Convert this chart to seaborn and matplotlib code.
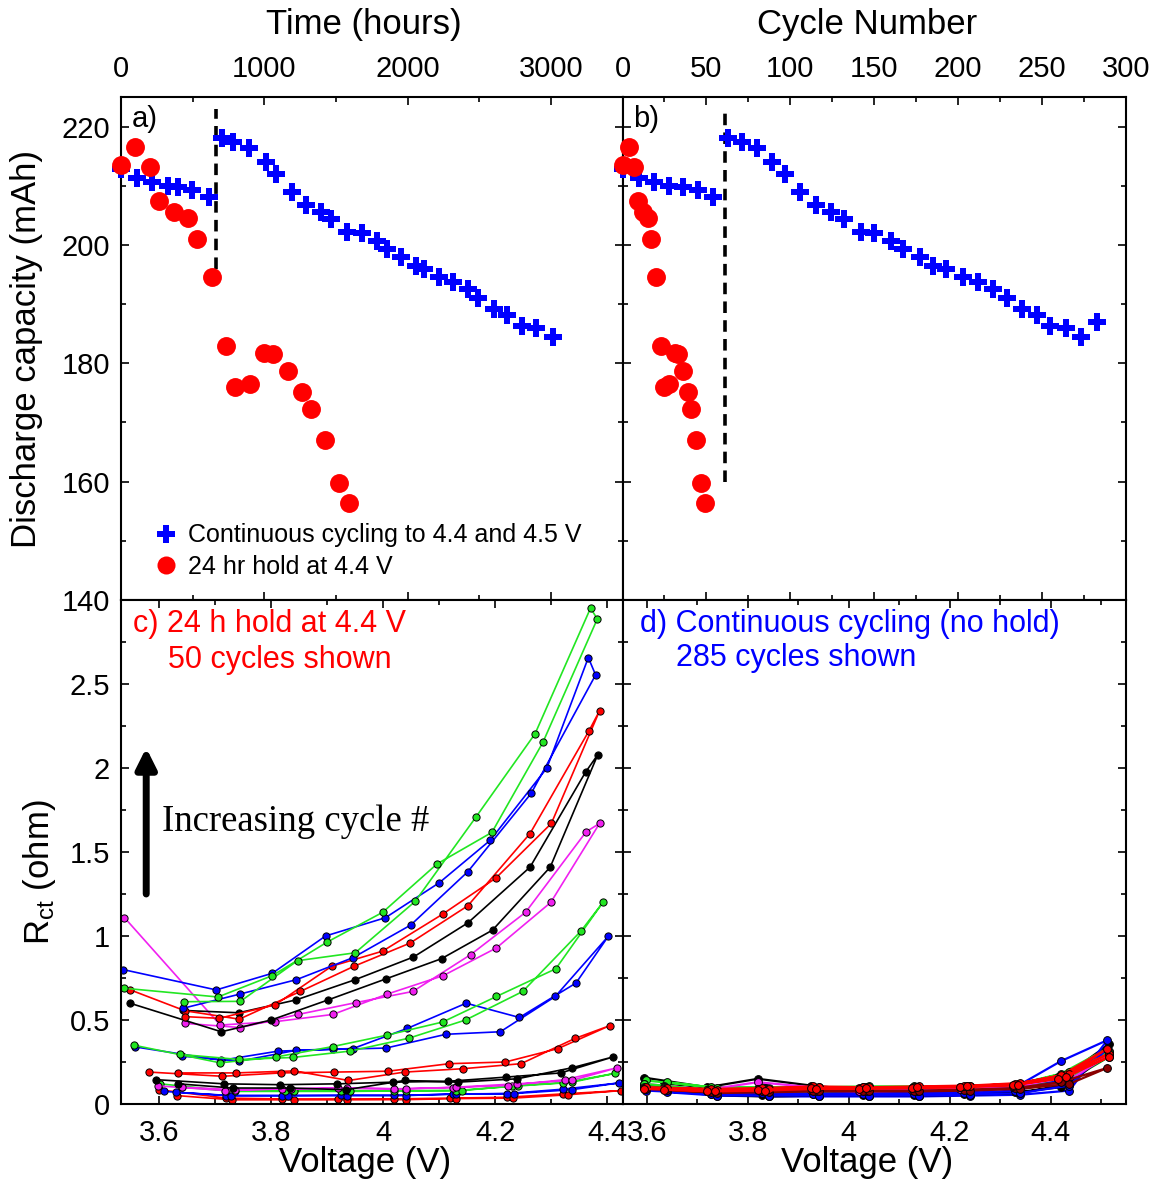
import matplotlib
matplotlib.use("Agg")
import matplotlib.pyplot as plt
from matplotlib.ticker import MultipleLocator, FixedLocator, FixedFormatter
from matplotlib.lines import Line2D
import seaborn as sns

# ---------------- capacity data (panels a, b) ----------------
time_cont = [0, 113, 219, 325, 396, 495, 613, 702, 785, 891, 1009, 1079, 1190, 1292,
             1398, 1468, 1579, 1680, 1786, 1857, 1951, 2057, 2116, 2222, 2317, 2423,
             2494, 2600, 2694, 2802, 2896, 3014]
cycle_cont = [0, 10, 19, 28, 36, 45, 54, 63, 71, 80, 89, 97, 106, 115, 124, 132, 142,
              150, 160, 167, 177, 185, 193, 203, 212, 221, 229, 238, 247, 255, 264, 273, 283]
cap_cont = [212.9, 211.3, 210.6, 210.0, 209.8, 209.3, 208.1, 218.0, 217.4, 216.3, 214.0,
            212.0, 208.9, 206.7, 205.6, 204.4, 202.2, 202.0, 200.7, 199.3, 198.0, 196.5,
            196.0, 194.6, 193.7, 192.6, 191.0, 189.2, 188.2, 186.3, 186.0, 184.5, 187.0]

time_hold = [0, 101, 203, 266, 368, 467, 533, 632, 731, 797, 898, 998, 1064, 1163, 1262,
             1328, 1427, 1524, 1592]
cycle_hold = [0, 4, 7, 9, 12, 15, 17, 20, 23, 25, 28, 31, 33, 36, 39, 41, 44, 47, 49]
cap_hold = [213.5, 216.5, 213.1, 207.4, 205.6, 204.5, 201.0, 194.6, 182.9, 176.0, 176.5,
            181.7, 181.6, 178.7, 175.1, 172.3, 167.0, 159.7, 156.4]

# voltage change between the two cycling protocols
switch_time = 662
switch_cycle = 61

# ---------------- Rct loops, 24 h hold (panel c) ----------------
c_red0_v = [3.600, 3.720, 3.820, 3.920, 4.020, 4.120, 4.220, 4.320, 4.425, 4.330, 4.232, 4.130, 4.040, 3.935, 3.840, 3.730, 3.632]
c_red0_r = [0.085, 0.035, 0.030, 0.030, 0.030, 0.035, 0.040, 0.060, 0.080, 0.055, 0.035, 0.032, 0.026, 0.025, 0.025, 0.025, 0.050]
c_blue0_v = [3.609, 3.720, 3.820, 3.925, 4.020, 4.125, 4.220, 4.320, 4.420, 4.336, 4.233, 4.130, 4.040, 3.935, 3.830, 3.728, 3.630]
c_blue0_r = [0.075, 0.050, 0.050, 0.052, 0.052, 0.058, 0.062, 0.088, 0.125, 0.085, 0.062, 0.060, 0.050, 0.050, 0.050, 0.050, 0.070]
c_green0_v = [3.602, 3.720, 3.824, 3.925, 4.020, 4.130, 4.230, 4.320, 4.413, 4.337, 4.240, 4.140, 4.040, 3.940, 3.840, 3.736, 3.640]
c_green0_r = [0.120, 0.080, 0.080, 0.080, 0.080, 0.080, 0.105, 0.125, 0.182, 0.130, 0.110, 0.080, 0.078, 0.075, 0.075, 0.075, 0.100]
c_mag0_v = [3.598, 3.718, 3.820, 3.920, 4.020, 4.124, 4.222, 4.324, 4.417, 4.336, 4.238, 4.130, 4.040, 3.935, 3.835, 3.735, 3.640]
c_mag0_r = [0.108, 0.080, 0.090, 0.095, 0.090, 0.098, 0.110, 0.145, 0.215, 0.140, 0.120, 0.100, 0.090, 0.095, 0.090, 0.085, 0.100]
c_black0_v = [3.594, 3.716, 3.815, 3.918, 4.017, 4.115, 4.219, 4.317, 4.410, 4.336, 4.239, 4.133, 4.038, 3.934, 3.833, 3.732, 3.634]
c_black0_r = [0.145, 0.120, 0.115, 0.120, 0.130, 0.135, 0.160, 0.185, 0.280, 0.215, 0.150, 0.130, 0.140, 0.085, 0.095, 0.095, 0.120]
c_red1_v = [3.582, 3.713, 3.818, 3.913, 4.008, 4.118, 4.218, 4.312, 4.404, 4.342, 4.246, 4.142, 4.038, 3.938, 3.841, 3.737, 3.634]
c_red1_r = [0.190, 0.165, 0.185, 0.190, 0.195, 0.240, 0.250, 0.330, 0.466, 0.390, 0.240, 0.210, 0.190, 0.140, 0.197, 0.185, 0.185]
c_blue1_v = [3.557, 3.711, 3.813, 3.910, 4.005, 4.112, 4.209, 4.307, 4.402, 4.344, 4.243, 4.148, 4.043, 3.946, 3.845, 3.743, 3.640]
c_blue1_r = [0.340, 0.260, 0.315, 0.325, 0.333, 0.415, 0.430, 0.640, 1.000, 0.720, 0.515, 0.600, 0.450, 0.330, 0.320, 0.255, 0.285]
c_green1_v = [3.555, 3.709, 3.809, 3.910, 4.007, 4.106, 4.202, 4.308, 4.392, 4.353, 4.249, 4.147, 4.046, 3.941, 3.839, 3.743, 3.638]
c_green1_r = [0.350, 0.245, 0.280, 0.342, 0.410, 0.488, 0.640, 0.805, 1.200, 1.030, 0.670, 0.500, 0.392, 0.315, 0.277, 0.265, 0.295]
c_mag1_v = [3.538, 3.709, 3.807, 3.910, 4.007, 4.107, 4.202, 4.299, 4.386, 4.362, 4.254, 4.156, 4.053, 3.952, 3.848, 3.745, 3.646]
c_mag1_r = [1.110, 0.470, 0.490, 0.533, 0.654, 0.764, 0.929, 1.200, 1.670, 1.620, 1.141, 0.889, 0.670, 0.604, 0.533, 0.455, 0.480]
c_black1_v = [3.548, 3.711, 3.800, 3.902, 4.005, 4.104, 4.195, 4.298, 4.383, 4.361, 4.262, 4.151, 4.054, 3.950, 3.845, 3.742, 3.643]
c_black1_r = [0.600, 0.430, 0.500, 0.620, 0.745, 0.865, 1.035, 1.410, 2.080, 1.975, 1.410, 1.078, 0.875, 0.740, 0.620, 0.543, 0.557]
c_red2_v = [3.548, 3.646, 3.743, 3.852, 3.948, 4.048, 4.151, 4.262, 4.367, 4.386, 4.300, 4.201, 4.106, 3.999, 3.908, 3.807, 3.707, 3.647]
c_red2_r = [0.680, 0.555, 0.505, 0.670, 0.820, 0.958, 1.180, 1.610, 2.220, 2.340, 1.670, 1.345, 1.130, 0.910, 0.820, 0.590, 0.510, 0.520]
c_blue2_v = [3.536, 3.702, 3.802, 3.897, 4.004, 4.100, 4.191, 4.292, 4.366, 4.379, 4.264, 4.151, 4.049, 3.946, 3.845, 3.745, 3.643]
c_blue2_r = [0.800, 0.679, 0.778, 1.000, 1.109, 1.317, 1.570, 2.000, 2.657, 2.554, 1.849, 1.383, 1.065, 0.871, 0.740, 0.655, 0.570]
c_green2_v = [3.538, 3.705, 3.802, 3.900, 3.999, 4.096, 4.194, 4.285, 4.382, 4.370, 4.271, 4.165, 4.057, 3.950, 3.847, 3.745, 3.645]
c_green2_r = [0.689, 0.637, 0.764, 0.964, 1.141, 1.429, 1.617, 2.153, 2.887, 2.952, 2.204, 1.706, 1.206, 0.900, 0.853, 0.611, 0.609]

# ---------------- Rct loops, continuous cycling (panel d) ----------------
d_volts_a = [3.595, 3.720, 3.820, 3.925, 4.020, 4.125, 4.220, 4.325, 4.415, 4.515,
             4.430, 4.335, 4.235, 4.135, 4.035, 3.935, 3.835, 3.735, 3.635]
d_volts_b = [3.598, 3.727, 3.828, 3.930, 4.028, 4.130, 4.228, 4.330, 4.420, 4.512,
             4.437, 4.340, 4.240, 4.140, 4.040, 3.942, 3.842, 3.740, 3.640]
d_black1 = [0.157, 0.100, 0.150, 0.110, 0.085, 0.080, 0.085, 0.100, 0.140, 0.355, 0.150, 0.095, 0.080, 0.075, 0.080, 0.090, 0.100, 0.090, 0.120]
d_green1 = [0.140, 0.100, 0.100, 0.100, 0.100, 0.105, 0.100, 0.115, 0.180, 0.330, 0.190, 0.120, 0.105, 0.100, 0.105, 0.100, 0.095, 0.095, 0.130]
d_mag1 = [0.120, 0.085, 0.130, 0.100, 0.090, 0.095, 0.095, 0.110, 0.150, 0.315, 0.140, 0.105, 0.090, 0.090, 0.085, 0.085, 0.090, 0.080, 0.110]
d_blue1 = [0.100, 0.070, 0.075, 0.070, 0.065, 0.065, 0.070, 0.100, 0.255, 0.380, 0.080, 0.055, 0.050, 0.045, 0.045, 0.045, 0.045, 0.055, 0.085]
d_dgreen = [0.110, 0.080, 0.080, 0.085, 0.080, 0.080, 0.085, 0.100, 0.140, 0.280, 0.130, 0.095, 0.085, 0.080, 0.080, 0.080, 0.075, 0.075, 0.100]
d_black2 = [0.090, 0.060, 0.055, 0.060, 0.055, 0.055, 0.060, 0.070, 0.100, 0.300, 0.120, 0.065, 0.055, 0.050, 0.050, 0.050, 0.045, 0.050, 0.080]
d_green2 = [0.120, 0.085, 0.090, 0.080, 0.085, 0.090, 0.095, 0.105, 0.150, 0.310, 0.130, 0.100, 0.090, 0.085, 0.080, 0.075, 0.075, 0.070, 0.100]
d_blue2 = [0.080, 0.060, 0.065, 0.060, 0.060, 0.060, 0.065, 0.080, 0.140, 0.330, 0.110, 0.065, 0.055, 0.050, 0.050, 0.050, 0.050, 0.050, 0.070]
d_mag2 = [0.100, 0.075, 0.090, 0.085, 0.080, 0.085, 0.090, 0.100, 0.150, 0.290, 0.130, 0.095, 0.085, 0.080, 0.075, 0.080, 0.080, 0.070, 0.095]
d_dred = [0.090, 0.070, 0.075, 0.080, 0.080, 0.080, 0.085, 0.095, 0.130, 0.215, 0.120, 0.090, 0.080, 0.075, 0.075, 0.075, 0.070, 0.065, 0.085]
d_red1 = [0.095, 0.085, 0.090, 0.100, 0.095, 0.095, 0.100, 0.110, 0.160, 0.300, 0.170, 0.120, 0.105, 0.100, 0.100, 0.095, 0.085, 0.080, 0.090]
d_red2 = [0.100, 0.090, 0.095, 0.105, 0.100, 0.100, 0.105, 0.120, 0.170, 0.330, 0.180, 0.125, 0.110, 0.105, 0.100, 0.100, 0.090, 0.085, 0.095]
d_red3 = [0.090, 0.080, 0.085, 0.095, 0.090, 0.095, 0.100, 0.115, 0.150, 0.280, 0.160, 0.115, 0.105, 0.100, 0.095, 0.090, 0.080, 0.075, 0.085]

GREEN, BLUE, RED, BLACK, MAG = "#22e622", "#0000ff", "#ff0000", "#000000", "#f020f0"
DGREEN, DRED = "#008a00", "#8a0000"

c_loops = [
    (c_red0_v, c_red0_r, RED), (c_blue0_v, c_blue0_r, BLUE), (c_green0_v, c_green0_r, GREEN),
    (c_mag0_v, c_mag0_r, MAG), (c_black0_v, c_black0_r, BLACK), (c_red1_v, c_red1_r, RED),
    (c_blue1_v, c_blue1_r, BLUE), (c_green1_v, c_green1_r, GREEN), (c_mag1_v, c_mag1_r, MAG),
    (c_black1_v, c_black1_r, BLACK), (c_red2_v, c_red2_r, RED), (c_blue2_v, c_blue2_r, BLUE),
    (c_green2_v, c_green2_r, GREEN),
]
d_loops = [
    (d_volts_a, d_black1, BLACK), (d_volts_b, d_green1, GREEN), (d_volts_a, d_mag1, MAG),
    (d_volts_b, d_blue1, BLUE), (d_volts_a, d_dgreen, DGREEN), (d_volts_b, d_black2, BLACK),
    (d_volts_a, d_green2, GREEN), (d_volts_b, d_blue2, BLUE), (d_volts_a, d_mag2, MAG),
    (d_volts_b, d_dred, DRED), (d_volts_a, d_red1, RED), (d_volts_b, d_red2, RED),
    (d_volts_a, d_red3, RED),
]

# ---------------- styling ----------------
sns.set_theme(style="white")
plt.rcParams["font.family"] = ["Liberation Sans", "DejaVu Sans"]
plt.rcParams["mathtext.default"] = "regular"
plt.rcParams["text.color"] = "black"
plt.rcParams["axes.labelcolor"] = "black"
plt.rcParams["xtick.color"] = "black"
plt.rcParams["ytick.color"] = "black"

W, H = 1163, 1183
fig = plt.figure(figsize=(W / 100, H / 100), dpi=100)
x0, xm, x1 = 121 / W, 622.5 / W, 1126 / W
y_top, y_mid, y_bot = 1 - 97 / H, 1 - 600 / H, 1 - 1104 / H
ax_a = fig.add_axes([x0, y_mid, xm - x0, y_top - y_mid])
ax_b = fig.add_axes([xm, y_mid, x1 - xm, y_top - y_mid])
ax_c = fig.add_axes([x0, y_bot, xm - x0, y_mid - y_bot])
ax_d = fig.add_axes([xm, y_bot, x1 - xm, y_mid - y_bot])

TICK_FS = 21
LABEL_FS = 25

for ax in (ax_a, ax_b, ax_c, ax_d):
    ax.set_facecolor("white")
    ax.tick_params(which="both", direction="in", top=True, bottom=True, left=True,
                   right=True, colors="black", width=1.2, labelsize=TICK_FS)
    ax.tick_params(which="major", length=6)
    ax.tick_params(which="minor", length=3.5)
    for sp in ax.spines.values():
        sp.set_linewidth(1.5)
        sp.set_color("black")

# ---- panel a: capacity vs time ----
sns.scatterplot(x=time_cont, y=cap_cont[:len(time_cont)], ax=ax_a, marker="P", s=175,
                color=BLUE, linewidth=0, zorder=3, clip_on=False)
sns.scatterplot(x=time_hold, y=cap_hold, ax=ax_a, marker="o", s=185, color=RED,
                linewidth=0, zorder=4, clip_on=False)
ax_a.plot([switch_time, switch_time], [196, 223], color="black", lw=2.6,
          linestyle=(0, (3.2, 2.0)), zorder=2)
ax_a.set_xlim(0, 3500)
ax_a.set_ylim(140, 225)
ax_a.xaxis.set_major_locator(MultipleLocator(1000))
ax_a.xaxis.set_minor_locator(MultipleLocator(500))
ax_a.yaxis.set_major_locator(MultipleLocator(20))
ax_a.yaxis.set_minor_locator(MultipleLocator(10))
ax_a.tick_params(axis="x", labeltop=True, labelbottom=False, pad=10)
ax_a.tick_params(axis="y", labelleft=True, labelright=False, pad=8)
ax_a.xaxis.set_label_position("top")
ax_a.set_xlabel("Time (hours)", fontsize=LABEL_FS)
ax_a.xaxis.set_label_coords(0.485, 1.125)
ax_a.set_ylabel("Discharge capacity (mAh)", fontsize=LABEL_FS)
ax_a.yaxis.set_label_coords(-0.155, 0.5)
ax_a.text(0.022, 0.985, "a)", transform=ax_a.transAxes, fontsize=TICK_FS,
          va="top", ha="left")
handles = [
    Line2D([], [], marker="P", linestyle="none", color=BLUE, markersize=13,
           markeredgewidth=0),
    Line2D([], [], marker="o", linestyle="none", color=RED, markersize=13,
           markeredgewidth=0),
]
ax_a.legend(handles, ["Continuous cycling to 4.4 and 4.5 V", "24 hr hold at 4.4 V"],
            loc="lower left", bbox_to_anchor=(0.064, 0.042), frameon=False, fontsize=18,
            handlelength=1.0, handletextpad=0.4, labelspacing=0.3, borderaxespad=0,
            borderpad=0)

# ---- panel b: capacity vs cycle number ----
sns.scatterplot(x=cycle_cont, y=cap_cont, ax=ax_b, marker="P", s=175, color=BLUE,
                linewidth=0, zorder=3, clip_on=False)
sns.scatterplot(x=cycle_hold, y=cap_hold, ax=ax_b, marker="o", s=185, color=RED,
                linewidth=0, zorder=4, clip_on=False)
ax_b.plot([switch_cycle, switch_cycle], [160, 223], color="black", lw=2.6,
          linestyle=(0, (3.2, 2.0)), zorder=2)
ax_b.set_xlim(0, 300)
ax_b.set_ylim(140, 225)
ax_b.xaxis.set_major_locator(MultipleLocator(50))
ax_b.xaxis.set_minor_locator(MultipleLocator(25))
ax_b.yaxis.set_major_locator(MultipleLocator(20))
ax_b.yaxis.set_minor_locator(MultipleLocator(10))
ax_b.tick_params(axis="x", labeltop=True, labelbottom=False, pad=10)
ax_b.tick_params(axis="y", labelleft=False, labelright=False)
ax_b.xaxis.set_label_position("top")
ax_b.set_xlabel("Cycle Number", fontsize=LABEL_FS)
ax_b.xaxis.set_label_coords(0.486, 1.125)
ax_b.set_ylabel("")
ax_b.text(0.022, 0.985, "b)", transform=ax_b.transAxes, fontsize=TICK_FS,
          va="top", ha="left")

# ---- panel c: Rct with 24 h hold ----
for v, r, col in c_loops:
    sns.lineplot(x=v, y=r, ax=ax_c, sort=False, estimator=None, color=col, lw=1.2,
                 marker="o", markersize=5.2, markeredgecolor="black",
                 markeredgewidth=0.7, markerfacecolor=col)
ax_c.set_xlim(3.532, 4.427)
ax_c.set_ylim(0, 3)
ax_c.xaxis.set_major_locator(FixedLocator([3.6, 3.8, 4.0, 4.2, 4.4]))
ax_c.xaxis.set_major_formatter(FixedFormatter(["3.6", "3.8", "4", "4.2", "4.4"]))
ax_c.xaxis.set_minor_locator(FixedLocator([3.7, 3.9, 4.1, 4.3]))
ax_c.yaxis.set_major_locator(FixedLocator([0, 0.5, 1, 1.5, 2, 2.5, 3]))
ax_c.yaxis.set_major_formatter(FixedFormatter(["0", "0.5", "1", "1.5", "2", "2.5", ""]))
ax_c.yaxis.set_minor_locator(MultipleLocator(0.25))
ax_c.tick_params(axis="x", labelbottom=True, labeltop=False, pad=11)
ax_c.tick_params(axis="y", labelleft=True, pad=8)
ax_c.set_xlabel("Voltage (V)", fontsize=LABEL_FS)
ax_c.xaxis.set_label_coords(0.487, -0.084)
ax_c.set_ylabel(r"R$_{ct}$ (ohm)", fontsize=LABEL_FS)
ax_c.yaxis.set_label_coords(-0.125, 0.46)
ax_c.text(3.553, 2.857, "c) 24 h hold at 4.4 V", color=RED, fontsize=22,
          va="center", ha="left")
ax_c.text(3.616, 2.645, "50 cycles shown", color=RED, fontsize=22,
          va="center", ha="left")
ax_c.annotate("", xy=(3.577, 2.12), xytext=(3.577, 1.25),
              arrowprops=dict(arrowstyle="-|>,head_length=1.0,head_width=0.5",
                              lw=5, color="black", shrinkA=0, shrinkB=0))
ax_c.text(3.606, 1.68, "Increasing cycle #", fontsize=26.5, va="center", ha="left",
          family=["Liberation Serif", "DejaVu Serif"])

# ---- panel d: Rct with continuous cycling ----
for v, r, col in d_loops:
    sns.lineplot(x=v, y=r, ax=ax_d, sort=False, estimator=None, color=col, lw=1.6,
                 marker="o", markersize=5.6, markeredgecolor="black",
                 markeredgewidth=0.7, markerfacecolor=col)
ax_d.set_xlim(3.552, 4.549)
ax_d.set_ylim(0, 3)
ax_d.xaxis.set_major_locator(FixedLocator([3.6, 3.8, 4.0, 4.2, 4.4]))
ax_d.xaxis.set_major_formatter(FixedFormatter(["3.6", "3.8", "4", "4.2", "4.4"]))
ax_d.xaxis.set_minor_locator(FixedLocator([3.7, 3.9, 4.1, 4.3, 4.5]))
ax_d.yaxis.set_major_locator(MultipleLocator(0.5))
ax_d.yaxis.set_minor_locator(MultipleLocator(0.25))
ax_d.tick_params(axis="x", labelbottom=True, labeltop=False, pad=11)
ax_d.tick_params(axis="y", labelleft=False, labelright=False)
ax_d.set_xlabel("Voltage (V)", fontsize=LABEL_FS)
ax_d.xaxis.set_label_coords(0.486, -0.084)
ax_d.set_ylabel("")
ax_d.text(3.586, 2.857, "d) Continuous cycling (no hold)", color=BLUE, fontsize=22,
          va="center", ha="left")
ax_d.text(3.657, 2.655, "285 cycles shown", color=BLUE, fontsize=22,
          va="center", ha="left")

fig.savefig("out.png", dpi=100, facecolor="white")
